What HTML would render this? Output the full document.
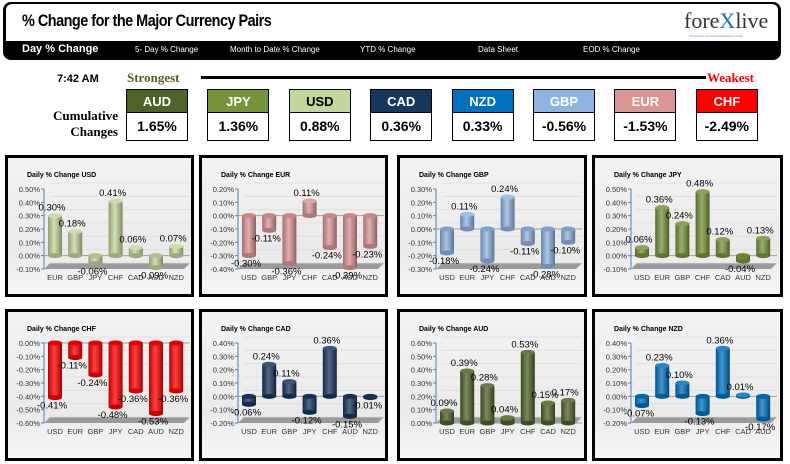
<!DOCTYPE html>
<html><head><meta charset="utf-8">
<style>
body{margin:0;width:790px;height:464px;background:#fff;overflow:hidden;font-family:"Liberation Sans",sans-serif;position:relative}
.abs{position:absolute}
#hdr{left:3px;top:2px;width:778px;height:58px;background:#000;border-radius:8px}
#hdrw{left:6px;top:4px;width:772px;height:37px;background:#fff;border-radius:6px 6px 0 0}
#title{left:22px;top:11px;font-weight:bold;font-size:17px;letter-spacing:-0.6px;transform:scaleX(0.85);transform-origin:left}
.nav{top:45px;color:#fff;font-size:8px}
.box{width:60px;border:1px solid #000;text-align:center;font-weight:bold}
.bh{height:23px;line-height:23px;color:#fff;font-size:13px}
.bv{top:112px;height:27px;line-height:27px;font-size:14px;background:#fff}
.panel{border:3px solid #000;box-sizing:border-box;background:linear-gradient(#f3f3f3,#eaeaea 70%,#f7f7f7)}
</style></head><body>
<div class="abs" id="hdr"></div>
<div class="abs" id="hdrw"></div>
<div class="abs" id="title">% Change for the Major Currency Pairs</div>
<div class="abs" style="left:684px;top:8px;font-family:'Liberation Serif',serif;font-size:22px;color:#333">fore<span style="color:#1f6fb4">X</span>live</div>
<div class="abs" style="left:689px;top:34px;font-size:3px;color:#5b8fc7">Tomorrow's Conventional Wisdom Today</div>
<div class="abs nav" style="left:22px;top:43px;font-size:11px;font-weight:bold">Day % Change</div>
<div class="abs nav" style="left:135px">5- Day % Change</div>
<div class="abs nav" style="left:230px">Month to Date % Change</div>
<div class="abs nav" style="left:360px">YTD % Change</div>
<div class="abs nav" style="left:478px">Data Sheet</div>
<div class="abs nav" style="left:583px">EOD % Change</div>
<div class="abs" style="left:57px;top:73px;font-weight:bold;font-size:11px">7:42 AM</div>
<div class="abs" style="left:127px;top:70px;font-weight:bold;font-size:13px;color:#4f6228;font-family:'Liberation Serif',serif">Strongest</div>
<div class="abs" style="left:201px;top:76px;width:505px;height:3px;background:#000"></div>
<div class="abs" style="left:707px;top:70px;font-weight:bold;font-size:13px;color:#f00;font-family:'Liberation Serif',serif">Weakest</div>
<div class="abs" style="left:40px;top:108px;font-weight:bold;font-size:13px;text-align:right;width:78px;line-height:16px;font-family:'Liberation Serif',serif">Cumulative Changes</div>
<div id="boxes"></div>
<svg id="charts" class="abs" style="left:0;top:0" width="790" height="464"></svg>
<script>
const rankCurrencies=["AUD","JPY","USD","CAD","NZD","GBP","EUR","CHF"];
const rankValues=["1.65%","1.36%","0.88%","0.36%","0.33%","-0.56%","-1.53%","-2.49%"];
const rankColors=["#4f6228","#77933c","#c3d69b","#17375e","#0070c0","#8db4e2","#d99694","#ff0000"];
const bx=document.getElementById('boxes');
rankCurrencies.forEach((c,i)=>{
  const x=126+i*81.4;
  const h=document.createElement('div');
  h.className='abs box bh';h.style.left=x+'px';h.style.top='89px';h.style.background=rankColors[i];
  h.style.color=i==2?'#000':'#fff';h.textContent=c;
  
  
  bx.appendChild(h);
  const v=document.createElement('div');
  v.className='abs box bv';v.style.left=x+'px';v.textContent=rankValues[i];
  
  
  bx.appendChild(v);
});

const usdCats=["EUR","GBP","JPY","CHF","CAD","AUD","NZD"];
const usdVals=[0.30,0.18,-0.06,0.41,0.06,-0.09,0.07];
const eurCats=["USD","GBP","JPY","CHF","CAD","AUD","NZD"];
const eurVals=[-0.30,-0.11,-0.36,0.11,-0.24,-0.39,-0.23];
const gbpCats=["USD","EUR","JPY","CHF","CAD","AUD","NZD"];
const gbpVals=[-0.18,0.11,-0.24,0.24,-0.11,-0.28,-0.10];
const jpyCats=["USD","EUR","GBP","CHF","CAD","AUD","NZD"];
const jpyVals=[0.06,0.36,0.24,0.48,0.12,-0.04,0.13];
const chfCats=["USD","EUR","GBP","JPY","CAD","AUD","NZD"];
const chfVals=[-0.41,-0.11,-0.24,-0.48,-0.36,-0.53,-0.36];
const cadCats=["USD","EUR","GBP","JPY","CHF","AUD","NZD"];
const cadVals=[-0.06,0.24,0.11,-0.12,0.36,-0.15,-0.01];
const audCats=["USD","EUR","GBP","JPY","CHF","CAD","NZD"];
const audVals=[0.09,0.39,0.28,0.04,0.53,0.15,0.17];
const nzdCats=["USD","EUR","GBP","JPY","CHF","CAD","AUD"];
const nzdVals=[-0.07,0.23,0.10,-0.13,0.36,0.01,-0.17];
const axisMins=[-0.1,-0.4,-0.3,-0.1,-0.6,-0.2,0,-0.2];
const axisMaxs=[0.5,0.2,0.3,0.5,0,0.4,0.6,0.4];

const panels=[
 {name:"usd",title:"Daily % Change USD",cats:usdCats,vals:usdVals,color:"#c3d69b",x:5,y:155,w:189,h:142},
 {name:"eur",title:"Daily % Change EUR",cats:eurCats,vals:eurVals,color:"#d99694",x:199,y:155,w:189,h:142},
 {name:"gbp",title:"Daily % Change GBP",cats:gbpCats,vals:gbpVals,color:"#8db4e2",x:397,y:155,w:190,h:142},
 {name:"jpy",title:"Daily % Change JPY",cats:jpyCats,vals:jpyVals,color:"#77933c",x:592,y:155,w:191,h:142},
 {name:"chf",title:"Daily % Change CHF",cats:chfCats,vals:chfVals,color:"#ff0000",x:5,y:309,w:189,h:152},
 {name:"cad",title:"Daily % Change CAD",cats:cadCats,vals:cadVals,color:"#17375e",x:199,y:309,w:189,h:152},
 {name:"aud",title:"Daily % Change AUD",cats:audCats,vals:audVals,color:"#4f6228",x:397,y:309,w:190,h:152},
 {name:"nzd",title:"Daily % Change NZD",cats:nzdCats,vals:nzdVals,color:"#0070c0",x:592,y:309,w:191,h:152}
];
const svg=document.getElementById('charts');
const NS="http://www.w3.org/2000/svg";
function mk(tag,attrs,parent){const e=document.createElementNS(NS,tag);for(const k in attrs)e.setAttribute(k,attrs[k]);parent.appendChild(e);return e;}
function shade(hex,f){const n=parseInt(hex.slice(1),16);let r=n>>16,g=(n>>8)&255,b=n&255;
 const m=v=>Math.max(0,Math.min(255,Math.round(f<0?v*(1+f):v+(255-v)*f)));return `rgb(${m(r)},${m(g)},${m(b)})`;}
const defs=mk('defs',{},svg);
panels.forEach((p,pi)=>{
  const gr=mk('linearGradient',{id:'g'+pi,x1:0,x2:1,y1:0,y2:0},defs);
  mk('stop',{offset:'0',  'stop-color':shade(p.color,-0.25)},gr);
  mk('stop',{offset:'0.45','stop-color':shade(p.color,0.25)},gr);
  mk('stop',{offset:'1',  'stop-color':shade(p.color,-0.35)},gr);
  const d=document.createElement('div');
  d.className='abs panel';d.style.left=p.x+'px';d.style.top=p.y+'px';d.style.width=p.w+'px';d.style.height=p.h+'px';
  
  
  document.body.insertBefore(d,svg);
  const g=mk('g',{},svg);
  
  
  const t=mk('text',{x:p.x+22,y:p.y+22,'font-size':7,'font-weight':'bold',fill:'#000'},g);
  t.textContent=p.title;
  
  
  const mn=axisMins[pi],mx=axisMaxs[pi];
  const top=p.y+34,bot=p.y+114,ax=p.x+39;
  const yS=v=>bot-(v-mn)/(mx-mn)*(bot-top);
  const xS=i=>ax+11+i*20.2;
  // floor
  const fl=mk('polygon',{points:`${ax},${bot} ${ax+140},${bot} ${ax+146},${bot-6} ${ax+6},${bot-6}`,fill:'#9a9a9a'},g);
  
  
  for(let k=0;k<=Math.round((mx-mn)/0.1);k++){
    const v=mn+k*0.1,y=yS(v);
    const gl=mk('line',{x1:ax+6,x2:ax+146,y1:y-6,y2:y-6,stroke:'#dcdcdc','stroke-width':0.8},g);
    
    
    const tl=mk('text',{x:ax-4,y:y+3,'font-size':7.5,'text-anchor':'end',fill:'#333'},g);
    tl.textContent=(Math.abs(v)<1e-9?0:v*100).toFixed(2).replace(/^(-?)0?/,'$10')+'%';
    tl.textContent=(Math.round(v*100)/100).toFixed(2)+'%';
    
    
    mk('line',{x1:ax-3,x2:ax,y1:y,y2:y,stroke:'#4f81bd','stroke-width':1},g);
  }
  const axl=mk('line',{x1:ax,x2:ax,y1:top,y2:bot,stroke:'#4f81bd','stroke-width':1},g);
  
  
  const z=yS(0);
  mk('line',{x1:ax,x2:ax+146,y1:z,y2:z,stroke:'#a0a0a0','stroke-width':1},g);
  p.vals.forEach((v,i)=>{
    const cx=xS(i),bw=14,y0=yS(0),y1=yS(v);
    const yt=Math.min(y0,y1),yb=Math.max(y0,y1);
    const r=mk('rect',{x:cx-bw/2,y:yt,width:bw,height:Math.max(1,yb-yt),fill:`url(#g${pi})`},g);
    
    
    mk('ellipse',{cx:cx,cy:yb,rx:bw/2,ry:2.5,fill:shade(p.color,-0.2)},g);
    mk('ellipse',{cx:cx,cy:yt,rx:bw/2,ry:2.5,fill:shade(p.color,v>=0?0.15:-0.1)},g);
    const vl=mk('text',{x:cx-3,y:v>=0?y1-5:y1+11,'font-size':9.5,'text-anchor':'middle',fill:'#000'},g);
    vl.textContent=v.toFixed(2)+'%';
    
    
    const cl=mk('text',{x:cx,y:bot+11,'font-size':7.5,'text-anchor':'middle',fill:'#333'},g);
    cl.textContent=p.cats[i];
    
    
  });
});
</script>
</body></html>
